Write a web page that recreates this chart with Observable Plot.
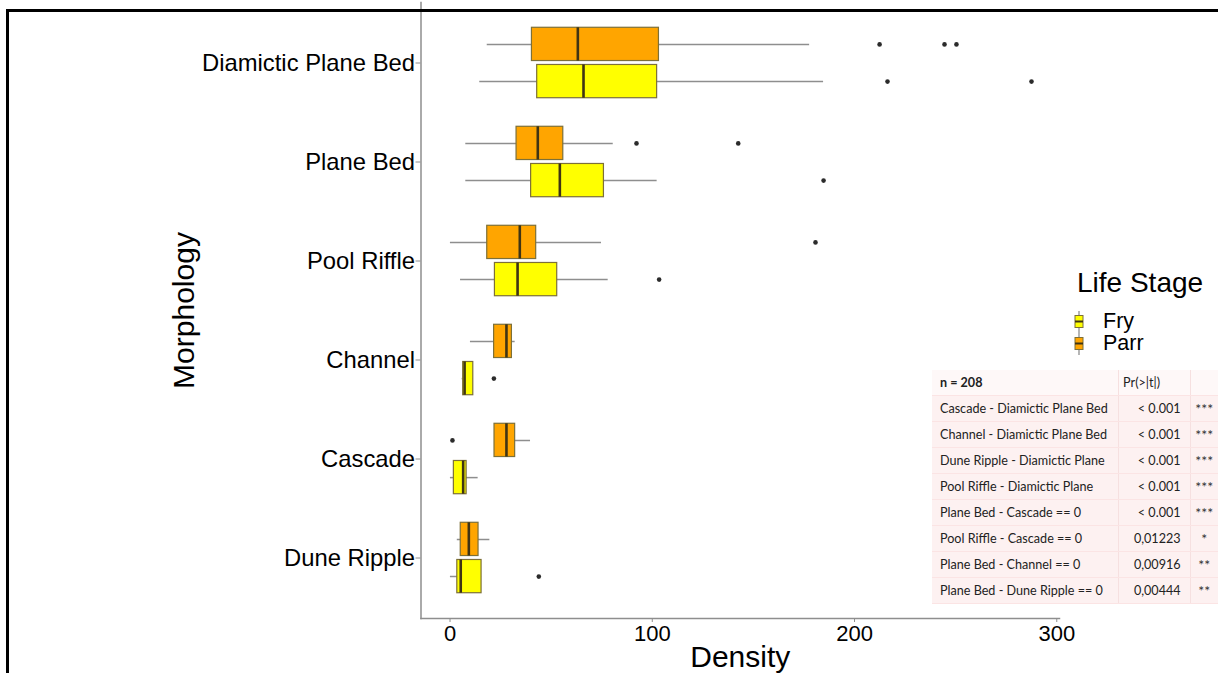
<!DOCTYPE html>
<html><head><meta charset="utf-8">
<script src="https://cdn.jsdelivr.net/npm/d3@7"></script>
<script src="https://cdn.jsdelivr.net/npm/@observablehq/plot@0.6"></script>
<style>
html,body{margin:0;padding:0;background:#fff;}
#wrap{position:relative;width:1218px;height:673px;overflow:hidden;font-family:"Liberation Sans",Arial,sans-serif;}
#chart{position:absolute;left:0;top:0;}
#border{position:absolute;left:6px;top:9px;width:1300px;height:700px;border-top:3px solid #000;border-left:3px solid #000;pointer-events:none;}
.lg{position:absolute;color:#000;white-space:nowrap;}
#ltitle{left:1077px;top:269px;font-size:28px;line-height:28px;}
.key{position:absolute;}
#tbl{position:absolute;left:932px;top:370px;border-collapse:collapse;font-family:Lato,"Open Sans",sans-serif;font-size:12.6px;color:#222;background:#fdf1f1;}
#tbl td{height:25px;padding:0 0 0 8px;border-bottom:1px solid #fbe4e4;white-space:nowrap;}
#tbl td.c1{width:182px;}
#tbl td.c2{width:56px;text-align:right;padding-right:9px;border-left:1px solid #f6e0e0;}
#tbl td.c3{width:31px;text-align:center;padding:0;border-left:1px solid #f6e0e0;font-size:14px;color:#333;}
#tbl tr.hd{background:#fef8f8;}
#tbl tr.hd td.c2{text-align:left;padding-left:4px;padding-right:0;}
</style></head><body><div id="wrap"><div id="chart"></div><div id="border"></div></div>
<script>
const morphology = ["Diamictic Plane Bed","Plane Bed","Pool Riffle","Channel","Cascade","Dune Ripple"];
const stages = ["Fry","Parr"];
const stageColors = ["#ffff00","#ffa500"];
// Parr box statistics
const parrLow    = [18.4,  7.8,  0.2, 10.1, 22.0,  3.6];
const parrQ1     = [40.5, 32.9, 18.4, 21.8, 22.0,  5.3];
const parrMedian = [63.2, 43.4, 34.5, 27.9, 27.9,  9.3];
const parrQ3     = [103.3, 56.0, 42.6, 30.6, 32.2, 14.1];
const parrHigh   = [177.8, 80.7, 74.9, 32.2, 39.8, 19.7];
// Fry box statistics
const fryLow     = [14.7,  7.8,  5.2,  6.0,  0.2,  0.2];
const fryQ1      = [43.1, 40.1, 22.2,  6.5,  1.9,  3.6];
const fryMedian  = [66.0, 54.3, 33.4,  7.2,  6.5,  5.3];
const fryQ3      = [102.4, 76.1, 53.0, 11.5,  8.2, 15.6];
const fryHigh    = [184.7, 102.4, 78.2, 11.5, 13.9, 15.6];
// outliers
const parrOutlierMorph = ["Diamictic Plane Bed","Diamictic Plane Bed","Diamictic Plane Bed","Plane Bed","Plane Bed","Pool Riffle","Cascade"];
const parrOutlierValue = [212.4, 244.5, 250.4, 92.2, 142.5, 180.7, 1.2];
const fryOutlierMorph  = ["Diamictic Plane Bed","Diamictic Plane Bed","Plane Bed","Pool Riffle","Channel","Dune Ripple"];
const fryOutlierValue  = [216.3, 287.5, 184.7, 103.4, 21.7, 43.9];
const xTicks = [0, 100, 200, 300];
const xDomain = [-14.35, 301.35];
// table
const tableHeader = ["n = 208", "Pr(>|t|)", ""];
const comparisons = ["Cascade - Diamictic Plane Bed","Channel - Diamictic Plane Bed","Dune Ripple - Diamictic Plane","Pool Riffle - Diamictic Plane","Plane Bed - Cascade == 0","Pool Riffle - Cascade == 0","Plane Bed - Channel == 0","Plane Bed - Dune Ripple == 0"];
const pValues = ["< 0.001","< 0.001","< 0.001","< 0.001","< 0.001","0,01223","0,00916","0,00444"];
const stars = ["***","***","***","***","***","*","**","**"];

const parr = morphology.map((m,i)=>({m, lo:parrLow[i], q1:parrQ1[i], med:parrMedian[i], q3:parrQ3[i], hi:parrHigh[i]}));
const fry  = morphology.map((m,i)=>({m, lo:fryLow[i], q1:fryQ1[i], med:fryMedian[i], q3:fryQ3[i], hi:fryHigh[i]}));
const parrOut = parrOutlierMorph.map((m,i)=>({m, v:parrOutlierValue[i]}));
const fryOut  = fryOutlierMorph.map((m,i)=>({m, v:fryOutlierValue[i]}));

const W = 1218, H = 673, mL = 420.5, mR = W - 1059, mT = 2, mB = H - 618;
const bw = (H - mB - mT) / (morphology.length + 0.2);
const boxH = 33.6, off = 18.6;
const inset = (bw - boxH) / 2;

function stageMarks(data, outl, fill, dy) {
  return [
    Plot.ruleY(data, {y:"m", x1:"lo", x2:"hi", dy, stroke:"#8e8e8e", strokeWidth:1.5}),
    Plot.barX(data, {y:"m", x1:"q1", x2:"q3", dy, insetTop:inset, insetBottom:inset, fill, stroke:"#7d7038", strokeWidth:1.2}),
    Plot.tickX(data, {y:"m", x:"med", dy, insetTop:inset, insetBottom:inset, stroke:"#3f3414", strokeWidth:2.6}),
    Plot.dot(outl, {y:"m", x:"v", dy, r:2.3, fill:"#2b2b2b", stroke:null})
  ];
}

const chart = Plot.plot({
  width: W, height: H,
  marginLeft: mL, marginRight: mR, marginTop: mT, marginBottom: mB,
  style: {fontFamily: '"Liberation Sans", Arial, sans-serif', background: "transparent", overflow: "visible"},
  x: {domain: xDomain, ticks: xTicks},
  y: {type: "band", domain: morphology, paddingInner: 0, paddingOuter: 0.1},
  marks: [
    Plot.frame({anchor: "left", stroke: "#8e8e8e", strokeWidth: 1.5}),
    Plot.frame({anchor: "bottom", stroke: "#8e8e8e", strokeWidth: 1.5}),
    Plot.axisX({ticks: xTicks, tickSize: 4, tickPadding: 3, fontSize: 22, stroke: "#8e8e8e", fill: "#000", label: null}),
    Plot.axisY({tickSize: 5, tickPadding: 1, fontSize: 23.8, stroke: "#8e8e8e", fill: "#000", label: null}),
    ...stageMarks(parr, parrOut, stageColors[1], -off),
    ...stageMarks(fry, fryOut, stageColors[0], off),
    Plot.text(["Density"], {text: d => d, frameAnchor: "bottom", textAnchor: "middle", dy: 48, fontSize: 30, fill: "#000"}),
    Plot.text(["Morphology"], {text: d => d, frameAnchor: "left", textAnchor: "middle", dx: -237, rotate: -90, fontSize: 30, fill: "#000"})
  ]
});
const wrap = document.getElementById("wrap");
document.getElementById("chart").appendChild(chart);

// legend
const lt = document.createElement("div"); lt.className = "lg"; lt.id = "ltitle"; lt.textContent = "Life Stage"; wrap.appendChild(lt);
const legendTops = [310.5, 332.5];
stages.forEach((s, i) => {
  const t = document.createElement("div"); t.className = "lg";
  t.style.left = "1103px"; t.style.top = legendTops[i] + "px"; t.style.fontSize = "21.5px"; t.style.lineHeight = "20px";
  t.textContent = s; wrap.appendChild(t);
  const k = document.createElementNS("http://www.w3.org/2000/svg", "svg");
  k.setAttribute("class", "key"); k.setAttribute("width", 14); k.setAttribute("height", 24);
  k.style.left = "1072px"; k.style.top = (legendTops[i] - 1) + "px";
  k.innerHTML = `<line x1="7" x2="7" y1="1" y2="23" stroke="#8e8e8e" stroke-width="1.3"/>
    <rect x="3" y="5.5" width="8" height="12" fill="${stageColors[i]}" stroke="#7d7038" stroke-width="1"/>
    <line x1="3" x2="11" y1="11.5" y2="11.5" stroke="#3f3414" stroke-width="2"/>`;
  wrap.appendChild(k);
});

// table
const tbl = document.createElement("table"); tbl.id = "tbl";
const hr = document.createElement("tr"); hr.className = "hd";
tableHeader.forEach((h, j) => { const td = document.createElement("td"); td.className = "c" + (j+1); td.textContent = h; if (j === 0) td.style.fontWeight = "bold"; hr.appendChild(td); });
tbl.appendChild(hr);
comparisons.forEach((c, i) => {
  const tr = document.createElement("tr");
  [c, pValues[i], stars[i]].forEach((v, j) => { const td = document.createElement("td"); td.className = "c" + (j+1); td.textContent = v; tr.appendChild(td); });
  tbl.appendChild(tr);
});
wrap.appendChild(tbl);
</script>
</body></html>
